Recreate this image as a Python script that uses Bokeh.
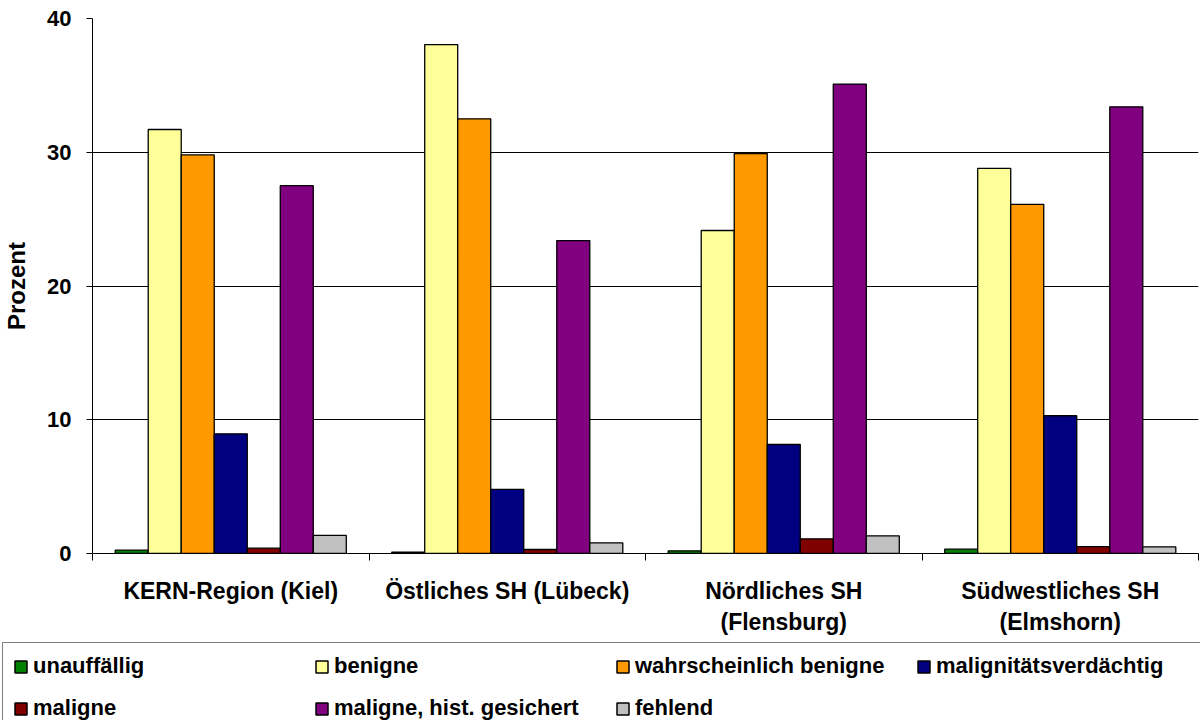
from bokeh.plotting import figure
from bokeh.layouts import column
from bokeh.models import (ColumnDataSource, Range1d, LinearAxis, FixedTicker,
                          Grid, Legend, LegendItem)
from bokeh.transform import dodge
from bokeh.embed import file_html
from bokeh.resources import INLINE

# Regions (x categories)
regions = ["KERN-Region (Kiel)", "Östliches SH (Lübeck)",
           "Nördliches SH\n(Flensburg)", "Südwestliches SH\n(Elmshorn)"]

# Percent per finding category and region
unauffaellig = [0.25, 0.1, 0.2, 0.32]
benigne = [31.7, 38.05, 24.15, 28.8]
wahrscheinlich_benigne = [29.8, 32.5, 29.9, 26.1]
malignitaetsverdaechtig = [8.95, 4.8, 8.15, 10.3]
maligne = [0.4, 0.3, 1.1, 0.52]
maligne_hist = [27.5, 23.4, 35.1, 33.4]
fehlend = [1.35, 0.8, 1.32, 0.5]

y_ticks = [0, 10, 20, 30, 40]

series_names = ["unauffällig", "benigne", "wahrscheinlich benigne",
                "malignitätsverdächtig", "maligne", "maligne, hist. gesichert",
                "fehlend"]
series_values = [unauffaellig, benigne, wahrscheinlich_benigne,
                 malignitaetsverdaechtig, maligne, maligne_hist, fehlend]
series_colors = ["#008000", "#FFFF99", "#FF9900", "#000080", "#800000",
                 "#800080", "#C0C0C0"]

FONT = "Liberation Sans"

data = {"xc": [i + 0.5 for i in range(len(regions))]}
for k, vals in enumerate(series_values):
    data[f"s{k}"] = vals
source = ColumnDataSource(data)

# ---- main bar chart ----
p = figure(width=1200, height=641, output_backend="svg", toolbar_location=None,
           x_range=Range1d(0, 4), y_range=Range1d(0, 40),
           x_axis_type=None, y_axis_type=None,
           min_border_left=92, min_border_right=2, min_border_top=18,
           min_border_bottom=88)
p.outline_line_color = None
p.background_fill_color = "white"
p.border_fill_color = "white"

bar_w = 0.1194
n = len(series_values)
for k in range(n):
    off = (k - (n - 1) / 2) * bar_w
    p.vbar(x=dodge("xc", off), top=f"s{k}", width=bar_w, bottom=0,
           source=source, fill_color=series_colors[k],
           line_color="black", line_width=1.3)

yaxis = LinearAxis(ticker=FixedTicker(ticks=y_ticks), axis_label="Prozent")
yaxis.axis_line_color = "black"
yaxis.major_tick_line_color = "black"
yaxis.major_tick_out = 6
yaxis.major_tick_in = 0
yaxis.minor_tick_line_color = None
yaxis.major_label_text_font = FONT
yaxis.major_label_text_font_style = "bold"
yaxis.major_label_text_font_size = "22px"
yaxis.major_label_text_color = "black"
yaxis.major_label_standoff = 15
yaxis.axis_label_text_font = FONT
yaxis.axis_label_text_font_style = "bold"
yaxis.axis_label_text_font_size = "24px"
yaxis.axis_label_text_color = "black"
yaxis.axis_label_standoff = 14
p.add_layout(yaxis, "left")

# x axis: labels at group centres, tick marks at group boundaries
xaxis = LinearAxis(ticker=FixedTicker(ticks=data["xc"],
                                      minor_ticks=[0, 1, 2, 3, 4]))
xaxis.major_label_overrides = {x: lab for x, lab in zip(data["xc"], regions)}
xaxis.axis_line_color = "black"
xaxis.major_tick_line_color = None
xaxis.major_tick_out = 0
xaxis.major_tick_in = 0
xaxis.minor_tick_line_color = "black"
xaxis.minor_tick_out = 7
xaxis.minor_tick_in = 0
xaxis.major_label_text_font = FONT
xaxis.major_label_text_font_style = "bold"
xaxis.major_label_text_font_size = "23px"
xaxis.major_label_text_color = "black"
xaxis.major_label_standoff = 17
p.add_layout(xaxis, "below")

p.add_layout(Grid(dimension=1, ticker=yaxis.ticker, grid_line_color="black",
                  grid_line_width=1))

# ---- legend strip below the chart ----
lg = figure(width=1200, height=79, output_backend="svg", toolbar_location=None,
            x_range=Range1d(0, 1), y_range=Range1d(0, 1),
            x_axis_type=None, y_axis_type=None,
            min_border_left=0, min_border_right=0, min_border_top=0,
            min_border_bottom=0)
lg.frame_align = False
lg.outline_line_color = None
lg.grid.visible = False
lg.border_fill_color = "white"

# legend swatches: one undrawn (NaN) row per series, carrying its colours
swatch = ColumnDataSource({"x": [float("nan")], "top": [float("nan")]})
items = []
for k in range(n):
    r = lg.vbar(x="x", top="top", width=0.1, source=swatch,
                fill_color=series_colors[k], line_color="black",
                line_width=1.5)
    items.append(LegendItem(label=series_names[k], renderers=[r]))

legend = Legend(items=items, ncols=4, location=(2, -12),
                orientation="horizontal")
legend.glyph_width = 15
legend.glyph_height = 15
legend.label_height = 20
legend.label_width = 265
legend.label_standoff = 5
legend.spacing = 16
legend.padding = 10
legend.margin = 0
legend.border_line_color = "black"
legend.border_line_width = 1
legend.background_fill_color = "white"
legend.background_fill_alpha = 1
legend.label_text_font = FONT
legend.label_text_font_style = "bold"
legend.label_text_font_size = "22px"
legend.label_text_color = "black"
lg.add_layout(legend, "center")

open("out.html", "w").write(file_html(column(p, lg, spacing=0), INLINE))
